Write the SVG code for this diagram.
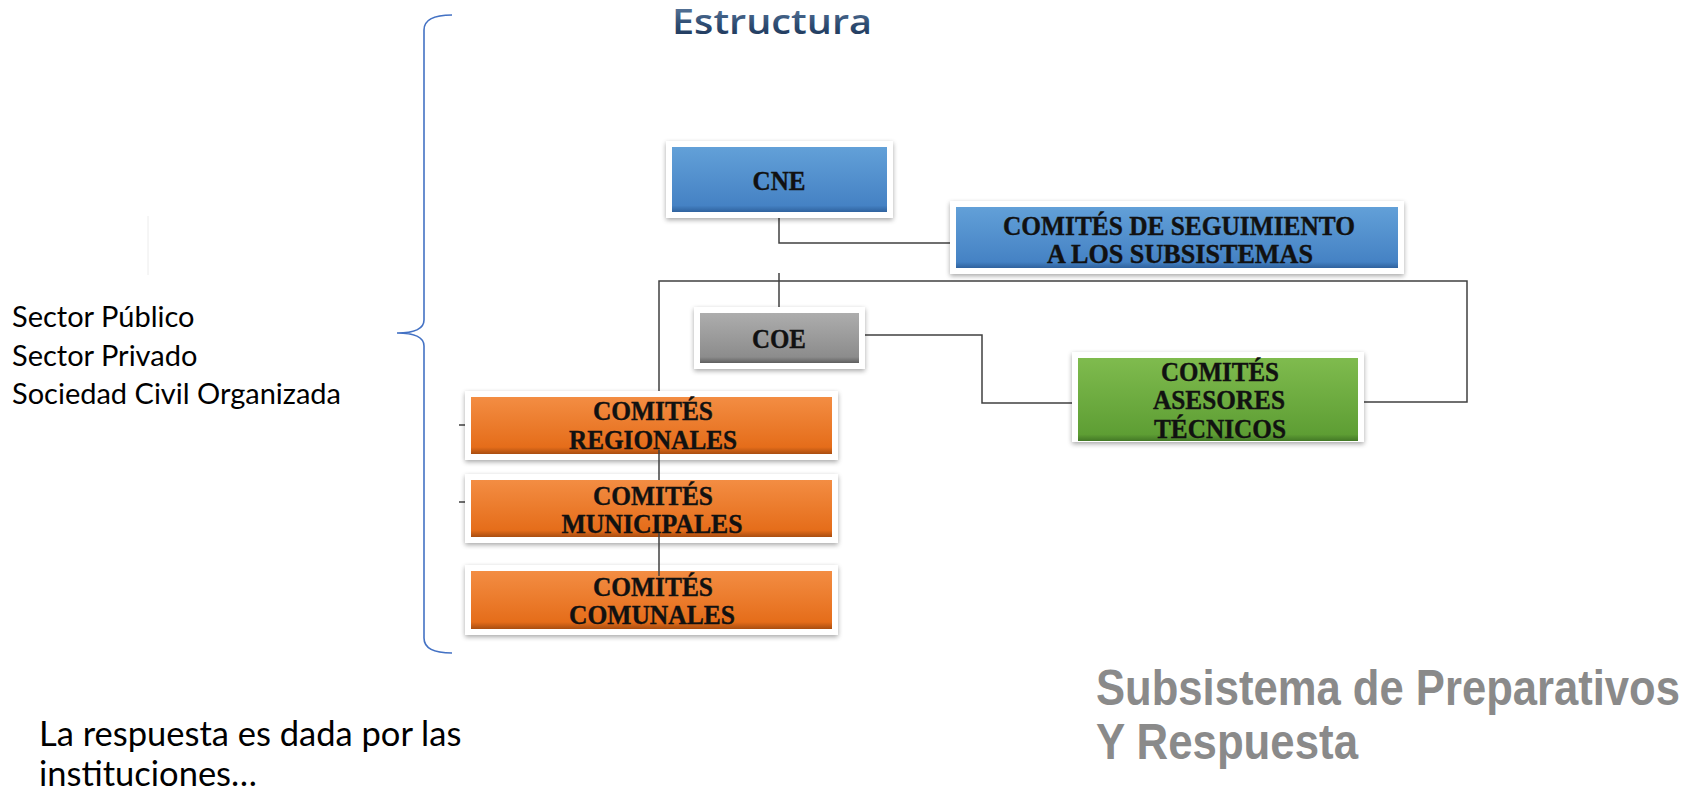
<svg xmlns="http://www.w3.org/2000/svg" width="1694" height="796" viewBox="0 0 1694 796">
  <defs>
    <linearGradient id="gBlue" x1="0" y1="0" x2="0" y2="1">
      <stop offset="0" stop-color="#62a0d8"/>
      <stop offset="0.9" stop-color="#4582c4"/>
      <stop offset="1" stop-color="#2f629e"/>
    </linearGradient>
    <linearGradient id="gGray" x1="0" y1="0" x2="0" y2="1">
      <stop offset="0" stop-color="#adadad"/>
      <stop offset="0.88" stop-color="#8c8c8c"/>
      <stop offset="1" stop-color="#5e5e5e"/>
    </linearGradient>
    <linearGradient id="gGreen" x1="0" y1="0" x2="0" y2="1">
      <stop offset="0" stop-color="#7fbb4e"/>
      <stop offset="0.92" stop-color="#5e9e34"/>
      <stop offset="1" stop-color="#437826"/>
    </linearGradient>
    <linearGradient id="gOrange" x1="0" y1="0" x2="0" y2="1">
      <stop offset="0" stop-color="#f38d43"/>
      <stop offset="0.88" stop-color="#e56d1a"/>
      <stop offset="1" stop-color="#a94d10"/>
    </linearGradient>
    <linearGradient id="gTitle" x1="0" y1="0" x2="0" y2="1">
      <stop offset="0" stop-color="#6f8db0"/>
      <stop offset="0.6" stop-color="#2c4a70"/>
      <stop offset="1" stop-color="#1a3050"/>
    </linearGradient>
    <filter id="shadow" x="-10%" y="-20%" width="120%" height="150%">
      <feGaussianBlur in="SourceAlpha" stdDeviation="2.5"/>
      <feOffset dx="0" dy="2" result="b"/>
      <feComponentTransfer><feFuncA type="linear" slope="0.35"/></feComponentTransfer>
      <feMerge><feMergeNode/><feMergeNode in="SourceGraphic"/></feMerge>
    </filter>
  </defs>
  <style>
    .frame { fill: #ffffff; filter: url(#shadow); }
    .lbl { font-family: "Liberation Serif", "DejaVu Serif", serif; font-weight: bold; font-size: 28px; fill: #111111; stroke: #111111; stroke-width: 0.4; text-anchor: middle; }
    .conn { fill: none; stroke: #404040; stroke-width: 1.5; }
    .side { font-family: Lato, "Open Sans", "Liberation Sans", sans-serif; fill: #000000; }
    .brace { fill: none; stroke: #4472c4; stroke-width: 1.6; }
    .sub { font-family: "Liberation Sans", Arial, sans-serif; font-weight: bold; fill: #8a8a8a; font-size: 44px; }
  </style>

  <rect width="1694" height="796" fill="#ffffff"/>

  <line x1="148" y1="216" x2="148" y2="275" stroke="#ececec" stroke-width="1"/>

  <text x="672" y="34" font-family="'Open Sans', 'Liberation Sans', sans-serif" font-weight="600" font-size="35" fill="url(#gTitle)" textLength="200" lengthAdjust="spacingAndGlyphs">Estructura</text>

  <g id="connectors">
    <path class="conn" d="M779 217 V243 H954"/>
    <path class="conn" d="M779 273 V309"/>
    <path class="conn" d="M659 397 V281 H1467 V402 H1360"/>
    <path class="conn" d="M863 335 H982 V403 H1076"/>
    <path class="conn" d="M459 425 H469"/>
    <path class="conn" d="M459 502 H469"/>
  </g>

  <g id="node-cne">
    <rect class="frame" x="666" y="141" width="227" height="77"/>
    <rect x="672" y="147" width="215" height="65" fill="url(#gBlue)"/>
    <text class="lbl" x="779" y="190" textLength="53" lengthAdjust="spacingAndGlyphs">CNE</text>
  </g>

  <g id="node-seguimiento">
    <rect class="frame" x="950" y="201" width="454" height="73"/>
    <rect x="956" y="207" width="442" height="61" fill="url(#gBlue)"/>
    <text class="lbl" x="1179" y="235" textLength="352" lengthAdjust="spacingAndGlyphs">COMITÉS DE SEGUIMIENTO</text>
    <text class="lbl" x="1180" y="263" textLength="266" lengthAdjust="spacingAndGlyphs">A LOS SUBSISTEMAS</text>
  </g>

  <g id="node-coe">
    <rect class="frame" x="694" y="307" width="171" height="62"/>
    <rect x="700" y="313" width="159" height="50" fill="url(#gGray)"/>
    <text class="lbl" x="779" y="348" textLength="54" lengthAdjust="spacingAndGlyphs">COE</text>
  </g>

  <g id="node-asesores">
    <rect class="frame" x="1072" y="352" width="292" height="90"/>
    <rect x="1078" y="358" width="280" height="83" fill="url(#gGreen)"/>
    <text class="lbl" x="1220" y="381" textLength="118" lengthAdjust="spacingAndGlyphs">COMITÉS</text>
    <text class="lbl" x="1219" y="409" textLength="132" lengthAdjust="spacingAndGlyphs">ASESORES</text>
    <text class="lbl" x="1220" y="438" textLength="132" lengthAdjust="spacingAndGlyphs">TÉCNICOS</text>
  </g>

  <g id="node-regionales">
    <rect class="frame" x="465" y="391" width="373" height="69"/>
    <rect x="471" y="397" width="361" height="57" fill="url(#gOrange)"/>
    <text class="lbl" x="653" y="420" textLength="120" lengthAdjust="spacingAndGlyphs">COMITÉS</text>
    <text class="lbl" x="653" y="449" textLength="168" lengthAdjust="spacingAndGlyphs">REGIONALES</text>
  </g>

  <g id="node-municipales">
    <rect class="frame" x="465" y="474" width="373" height="69"/>
    <rect x="471" y="480" width="361" height="57" fill="url(#gOrange)"/>
    <text class="lbl" x="653" y="505" textLength="120" lengthAdjust="spacingAndGlyphs">COMITÉS</text>
    <text class="lbl" x="652" y="533" textLength="181" lengthAdjust="spacingAndGlyphs">MUNICIPALES</text>
  </g>

  <g id="node-comunales">
    <rect class="frame" x="465" y="565" width="373" height="70"/>
    <rect x="471" y="571" width="361" height="58" fill="url(#gOrange)"/>
    <text class="lbl" x="653" y="596" textLength="120" lengthAdjust="spacingAndGlyphs">COMITÉS</text>
    <text class="lbl" x="652" y="624" textLength="166" lengthAdjust="spacingAndGlyphs">COMUNALES</text>
  </g>

  <g id="connectors-vertical">
    <path class="conn" d="M659 450 V480"/>
    <path class="conn" d="M659 533 V576"/>
  </g>

  <g id="brace">
    <path class="brace" d="M452 15 Q424 15 424 30 L424 320 Q424 333 397 333 Q424 333 424 346 L424 638 Q424 653 452 653"/>
  </g>

  <g id="side-text">
    <text class="side" x="12" y="327" font-size="29">Sector Público</text>
    <text class="side" x="12" y="366" font-size="29">Sector Privado</text>
    <text class="side" x="12" y="404" font-size="29">Sociedad Civil Organizada</text>
    <text class="side" x="39" y="746" font-size="34.5">La respuesta es dada por las</text>
    <text class="side" x="39" y="786" font-size="34.5">instituciones…</text>
  </g>

  <g id="subtitle">
    <text class="sub" transform="translate(1096 705) scale(1 1.13)" x="0" y="0" textLength="584" lengthAdjust="spacingAndGlyphs">Subsistema de Preparativos</text>
    <text class="sub" transform="translate(1096 759) scale(1 1.13)" x="0" y="0" textLength="262" lengthAdjust="spacingAndGlyphs">Y Respuesta</text>
  </g>
</svg>
